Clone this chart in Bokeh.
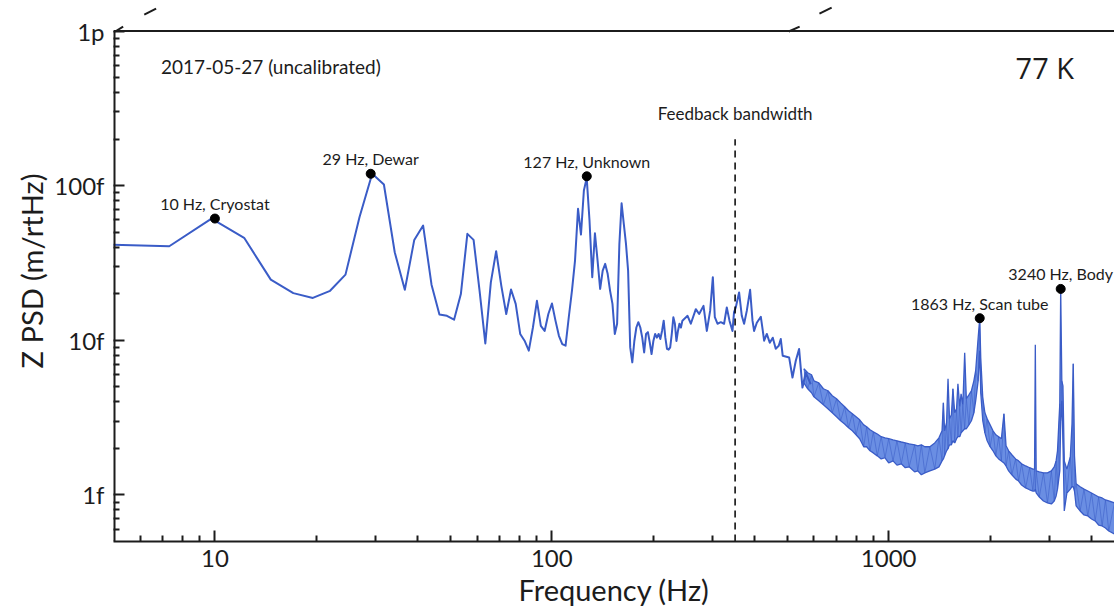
from bokeh.plotting import figure
from bokeh.models import (Range1d, FixedTicker, Span, Title, BasicTickFormatter,
                          ColumnDataSource)
from bokeh.core.properties import value
from bokeh.embed import file_html
from bokeh.resources import INLINE

# Z displacement noise spectrum, frequency in Hz and PSD in fm/rtHz.
# Resolved part of the spectrum (bin spacing ~2.44 Hz at low frequency)
freq_low = [4.88, 7.32, 9.77, 12.21, 14.65, 17.09, 19.53, 21.97, 24.41, 26.86,
            29.30, 31.74, 34.18, 36.62, 39.06, 41.50, 43.95, 46.39, 48.83, 51.27,
            53.71, 56.15, 58.59, 61.04, 63.48, 65.92, 68.36, 70.80, 73.24, 75.68,
            78.13, 80.57, 83.01, 85.45, 87.89, 90.33, 92.77, 95.21, 97.66, 100.10,
            102.54, 104.98, 107.42, 109.86, 112.30, 114.75, 117.19, 119.63, 122.07, 124.51,
            126.95, 129.39, 131.84, 134.28, 136.72, 139.16, 141.60, 144.04, 146.48, 148.93,
            151.37, 153.81, 156.25, 158.69, 161.13, 163.57, 166.02, 168.46, 170.90, 173.34,
            175.78, 178.22, 180.66, 183.11, 185.55, 187.99, 190.43, 192.87, 195.31, 197.75,
            200.20, 202.64, 205.08, 207.52, 209.96, 212.40, 214.84, 217.29, 219.73, 222.17,
            224.61, 227.05, 229.49, 231.93, 234.38, 236.82, 239.26, 241.70, 244.14,
            252.9, 258.6, 267.6, 273.7, 282.0, 288.5, 295.1, 300.6, 304.7, 310.3,
            317.4, 324.6, 330.7, 336.8, 343.8, 347.5, 351.6, 359.7, 366.4, 372.2,
            379.1, 387.8, 394.2, 398.5, 406.0, 417.3, 423.0, 426.8, 434.7, 443.6,
            452.8, 462.1, 471.7, 478.2, 484.7, 506.3, 518.1, 529.9, 542.0, 554.6,
            567.3, 587.0]
psd_low = [41.5, 40.6, 61.3, 46.0, 24.7, 20.2, 18.8, 20.9, 26.6, 62.5,
           119.4, 101.8, 37.1, 21.2, 44.6, 55.2, 22.9, 14.7, 14.4, 13.6,
           19.9, 48.8, 44.6, 20.9, 9.55, 23.7, 37.7, 22.6, 14.8, 21.3,
           17.2, 11.0, 9.94, 8.57, 12.1, 18.0, 12.4, 11.5, 14.8, 17.3,
           13.4, 10.7, 9.46, 9.23, 14.1, 20.9, 32.8, 70.8, 48.3, 93.0,
           112.0, 59.5, 25.6, 49.2, 32.8, 21.5, 28.2, 31.2, 26.9, 20.9,
           17.2, 11.0, 12.8, 42.0, 77.0, 56.7, 42.0, 28.2, 9.0, 7.2,
           9.9, 12.1, 13.1, 12.1, 10.4, 8.35, 11.0, 11.3, 9.7, 8.15,
           9.9, 11.0, 10.4, 11.0, 10.2, 11.5, 13.4, 10.4, 8.8, 8.7,
           9.0, 11.0, 14.1, 12.8, 9.9, 11.5, 12.8, 12.1, 13.4,
           14.4, 12.8, 15.9, 14.8, 16.7, 11.5, 15.5, 25.6, 14.1, 12.8,
           13.1, 12.8, 16.3, 13.4, 11.5, 15.2, 16.3, 20.4, 14.4, 12.8,
           15.5, 21.2, 13.4, 11.5, 13.0, 14.2, 11.5, 9.94, 11.0, 9.65,
           10.4, 8.83, 9.23, 10.2, 7.94, 7.75, 5.75, 7.38, 8.8, 4.95,
           6.17, 5.2]

# Dense high-frequency part: upper and lower envelope of the noise band
band_freq = [560, 575, 590, 600, 620, 640, 660, 680, 700, 720,
             740, 760, 780, 800, 820, 843, 860, 880, 900, 925,
             950, 975, 1000, 1030, 1058, 1090, 1120, 1150, 1194, 1220,
             1250, 1280, 1325, 1370, 1410, 1440, 1453, 1465, 1485, 1500,
             1515, 1535, 1551, 1570, 1590, 1605, 1625, 1640, 1660, 1681,
             1700, 1730, 1760, 1790, 1812, 1843, 1863, 1876, 1902, 1930,
             1960, 2000, 2040, 2080, 2120, 2160, 2198, 2230, 2270, 2320,
             2380, 2430, 2480, 2550, 2620, 2680, 2710, 2724, 2740, 2800,
             2880, 2960, 3040, 3100, 3140, 3170, 3220, 3240, 3265, 3290,
             3320, 3380, 3460, 3500, 3530, 3560, 3600, 3700, 3800, 3900,
             4000, 4100, 4200, 4300, 4400, 4500, 4680]
band_upper = [6.55, 6.17, 5.99, 5.47, 5.31, 4.86, 4.72, 4.38, 4.19, 3.94,
              3.72, 3.50, 3.35, 3.20, 3.06, 2.84, 2.76, 2.64, 2.56, 2.48,
              2.38, 2.34, 2.31, 2.27, 2.24, 2.20, 2.17, 2.14, 2.11, 2.08,
              2.11, 2.05, 2.05, 2.17, 2.34, 2.60, 3.94, 2.60, 2.93, 5.64,
              3.11, 3.30, 4.86, 3.40, 3.61, 5.24, 3.72, 4.51, 3.83, 8.31,
              4.19, 4.44, 4.72, 5.47, 6.36, 10.39, 13.9, 7.71, 4.25, 3.40,
              3.11, 2.84, 2.60, 2.45, 2.38, 2.31, 3.35, 2.08, 1.93, 1.82,
              1.71, 1.66, 1.59, 1.54, 1.50, 1.47, 1.47, 9.37, 1.43, 1.41,
              1.39, 1.39, 1.43, 1.52, 1.66, 1.93, 3.89, 21.5, 5.47, 5.08,
              1.66, 1.47, 1.76, 2.88, 7.05, 1.79, 1.18, 1.13, 1.09, 1.06,
              1.03, 1.00, 0.970, 0.956, 0.928, 0.914, 0.888]
band_lower = [5.31, 4.86, 4.58, 4.31, 4.06, 3.83, 3.61, 3.40, 3.20, 3.02,
              2.88, 2.72, 2.60, 2.45, 2.31, 2.05, 2.05, 1.93, 1.87, 1.79,
              1.71, 1.74, 1.61, 1.66, 1.56, 1.59, 1.50, 1.52, 1.41, 1.43,
              1.35, 1.39, 1.43, 1.47, 1.52, 1.66, 1.71, 1.79, 1.93, 1.99,
              2.11, 2.11, 2.24, 2.17, 2.31, 2.38, 2.38, 2.52, 2.60, 2.68,
              2.68, 2.84, 3.02, 3.40, 4.06, 5.47, 8.56, 4.58, 3.02, 2.52,
              2.24, 2.05, 1.93, 1.79, 1.71, 1.66, 1.61, 1.54, 1.43, 1.35,
              1.27, 1.23, 1.16, 1.11, 1.08, 1.06, 1.06, 1.09, 1.03, 0.970,
              0.914, 0.888, 0.874, 0.914, 0.985, 1.09, 1.43, 3.02, 4.06, 2.24,
              0.788, 1.03, 1.09, 1.13, 1.13, 1.06, 0.849, 0.788, 0.742, 0.731,
              0.699, 0.679, 0.639, 0.630, 0.611, 0.585, 0.559]

# Identified resonances
peak_freq = [10, 29, 127, 1863, 3240]
peak_psd = [61.3, 119.4, 115.0, 13.9, 21.5]
peak_name = ["Cryostat", "Dewar", "Unknown", "Scan tube", "Body"]
peak_label = [f"{f} Hz, {n}" for f, n in zip(peak_freq, peak_name)]

feedback_bandwidth = 350

x_major = [10, 100, 1000]
x_minor = [6, 7, 8, 9, 20, 30, 40, 50, 60, 70, 80, 90,
           200, 300, 400, 500, 600, 700, 800, 900, 2000, 3000, 4000]
y_major = [1, 10, 100, 1000]
y_minor = [0.6, 0.7, 0.8, 0.9, 2, 3, 4, 5, 6, 7, 8, 9,
           20, 30, 40, 50, 60, 70, 80, 90, 200, 300, 400, 500, 600, 700, 800, 900]
y_labels = {1: "1f", 10: "10f", 100: "100f", 1000: "1p"}
x_labels = {10: "10", 100: "100", 1000: "1000"}

# axis limits; the frame reaches up to the top of the canvas so that the
# break marks above the 1p line can be drawn as ordinary glyphs
X_MIN, X_MAX = 5, 4680
Y_MIN, Y_TOP, Y_MAX = 0.5, 1576, 1000

LINE = "#3a5cc7"
FILL = "#6a8ee3"
INK = "#1c1c1c"
FONT = "Lato"

p = figure(width=1114, height=613, x_axis_type="log", y_axis_type="log",
           x_range=Range1d(X_MIN, X_MAX), y_range=Range1d(Y_MIN, Y_TOP),
           output_backend="svg", toolbar_location=None,
           min_border_left=113, min_border_right=0,
           min_border_top=0, min_border_bottom=72)
p.outline_line_color = None
p.xgrid.visible = False
p.ygrid.visible = False
p.background_fill_color = "white"

# noise band above the feedback bandwidth: filled envelope, hatched by the
# trace running between its upper and lower extremes
p.varea(x=band_freq, y1=band_lower, y2=band_upper, fill_color=FILL, fill_alpha=1.0)
trace_y = [u if i % 2 == 0 else l for i, (u, l) in enumerate(zip(band_upper, band_lower))]
p.line(band_freq, trace_y, line_color=LINE, line_width=1.0, line_alpha=0.55)
p.line(band_freq, band_upper, line_color=LINE, line_width=1.3)
p.line(band_freq, band_lower, line_color=LINE, line_width=1.3)

# resolved spectrum
p.line(freq_low, psd_low, line_color=LINE, line_width=2, line_join="round")

# feedback bandwidth marker
p.line(x=[feedback_bandwidth, feedback_bandwidth], y=[Y_MIN, 200],
       line_color="black", line_width=1.5, line_dash="7 5")
p.text(x=[feedback_bandwidth], y=[292], text=["Feedback bandwidth"],
       text_font=value(FONT), text_font_size="17px", text_color=INK,
       text_align="center", text_baseline="middle")

# resonance markers and labels
src = ColumnDataSource(dict(x=peak_freq, y=peak_psd, label=peak_label))
p.scatter("x", "y", source=src, size=9, color="black")
p.text("x", "y", text="label", source=src, y_offset=-15,
       text_font=value(FONT), text_font_size="16px", text_color=INK,
       text_align="center", text_baseline="middle")

p.text(x=[6.92], y=[591], text=["2017-05-27 (uncalibrated)"],
       text_font=value(FONT), text_font_size="19px", text_color=INK,
       text_align="left", text_baseline="middle")
p.text(x=[2380], y=[580], text=["77 K"],
       text_font=value("Open Sans"), text_font_size="29px", text_color=INK,
       text_align="left", text_baseline="middle")

# frame lines: top edge at 1p, left edge up to 1p
p.add_layout(Span(location=Y_MAX, dimension="width", line_color=INK, line_width=2))
p.line(x=[X_MIN, X_MIN], y=[Y_MIN, Y_MAX], line_color=INK, line_width=4)

# axes with inward major and minor ticks
for ax, major, minor, labels in ((p.xaxis[0], x_major, x_minor, x_labels),
                                 (p.yaxis[0], y_major, y_minor, y_labels)):
    ax.ticker = FixedTicker(ticks=major, minor_ticks=minor)
    ax.formatter = BasicTickFormatter()
    ax.major_label_overrides = labels
    ax.major_label_text_font = FONT
    ax.major_label_text_font_size = "24px"
    ax.major_label_text_color = INK
    ax.major_tick_line_color = INK
    ax.major_tick_line_width = 2
    ax.major_tick_in = 11
    ax.major_tick_out = 0
    ax.minor_tick_line_color = INK
    ax.minor_tick_line_width = 2
    ax.minor_tick_in = 6
    ax.minor_tick_out = 0

xa = p.xaxis[0]
xa.axis_label = "Frequency (Hz)"
xa.axis_label_text_font = FONT
xa.axis_label_text_font_style = "normal"
xa.axis_label_text_font_size = "29px"
xa.axis_label_text_color = INK
xa.axis_line_width = 2
xa.axis_line_color = INK
xa.major_label_standoff = 8
xa.axis_label_standoff = 2

ya = p.yaxis[0]
ya.axis_line_color = None
ya.major_label_standoff = 9
p.add_layout(Title(text="Z PSD (m/rtHz)", align="center", offset=-15, standoff=6,
                   text_font=FONT, text_font_size="29px", text_font_style="normal",
                   text_color=INK), "left")

# small break marks above the frame
for xs, ys in (([5.06, 5.34], [993, 1069]), ([6.17, 6.69], [1279, 1398]),
               ([505, 544], [993, 1069]), ([623, 677], [1297, 1419])):
    p.line(x=xs, y=ys, line_color=INK, line_width=2)

open("out.html", "w").write(file_html(p, INLINE))
